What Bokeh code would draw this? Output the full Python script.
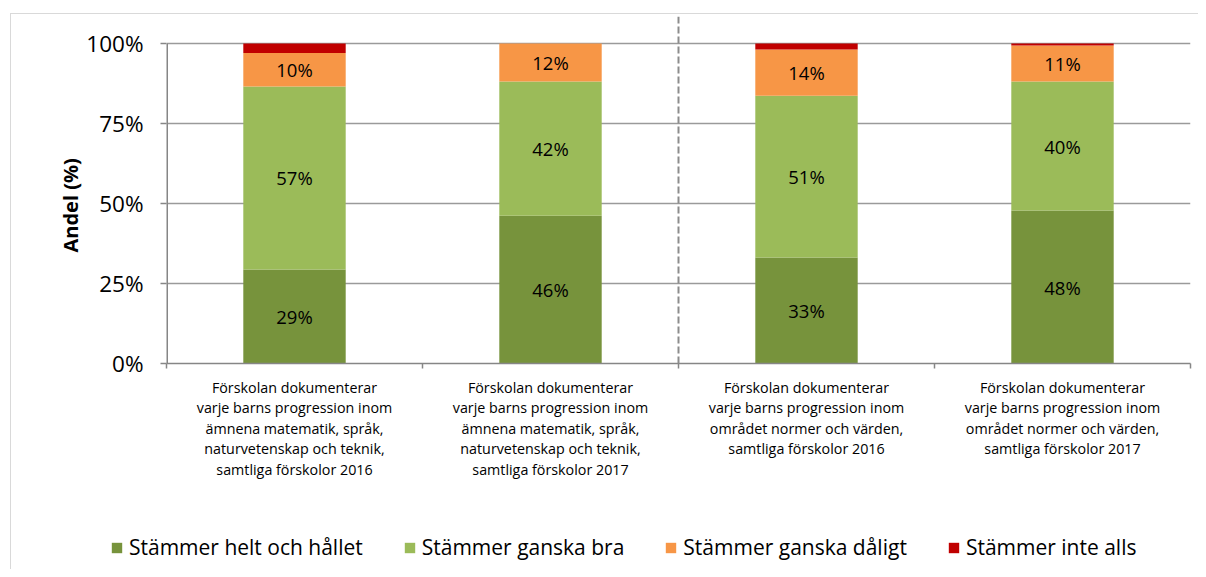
import numpy as np
from bokeh.plotting import figure
from bokeh.layouts import column
from bokeh.models import (ColumnDataSource, FixedTicker, PrintfTickFormatter, Range1d,
                          Span, Title)
from bokeh.core.properties import value
from bokeh.embed import file_html
from bokeh.resources import INLINE

# ---- data ----
categories = [
    "Förskolan dokumenterar\nvarje barns progression inom\nämnena matematik, språk,\nnaturvetenskap och teknik,\nsamtliga förskolor 2016",
    "Förskolan dokumenterar\nvarje barns progression inom\nämnena matematik, språk,\nnaturvetenskap och teknik,\nsamtliga förskolor 2017",
    "Förskolan dokumenterar\nvarje barns progression inom\nområdet normer och värden,\nsamtliga förskolor 2016",
    "Förskolan dokumenterar\nvarje barns progression inom\nområdet normer och värden,\nsamtliga förskolor 2017",
]
series_names = ["Stämmer helt och hållet", "Stämmer ganska bra", "Stämmer ganska dåligt", "Stämmer inte alls"]
helt = [29.4, 46.2, 33.1, 47.8]
bra = [57.2, 41.9, 50.6, 40.3]
daligt = [10.4, 11.9, 14.4, 11.3]
inte_alls = [3.0, 0.0, 1.9, 0.6]
y_ticks = [0, 25, 50, 75, 100]
colors = ["#77933C", "#9BBB59", "#F79646", "#C00000"]

FONT = "Open Sans"
xpos = [i + 0.5 for i in range(len(categories))]
YMAX = 108.44

src = ColumnDataSource(dict(x=xpos, s0=helt, s1=bra, s2=daligt, s3=inte_alls))

p = figure(width=1198, height=525, output_backend="svg", toolbar_location=None,
           x_range=Range1d(0, len(categories)), y_range=Range1d(0, YMAX),
           min_border_left=166, min_border_right=8, min_border_top=16, min_border_bottom=162)
p.outline_line_color = None
p.background_fill_color = "white"
p.border_fill_color = None

p.vbar_stack(["s0", "s1", "s2", "s3"], x="x", width=0.4, color=colors,
             source=src, line_color=None)

# value labels (first three series)
stack = np.array([helt, bra, daligt, inte_alls])
cum = np.cumsum(stack, axis=0)
lx, ly, lt = [], [], []
for s in range(3):
    for i in range(len(categories)):
        lx.append(xpos[i])
        ly.append(cum[s, i] - stack[s, i] / 2)
        lt.append(f"{int(round(stack[s, i]))}%")
p.text(x=lx, y=ly, text=lt, text_align="center", text_baseline="middle",
       text_font=value(FONT), text_font_size="18.5px", text_color="#000000")

# axes
p.xgrid.visible = False
p.yaxis.ticker = FixedTicker(ticks=y_ticks)
p.yaxis.formatter = PrintfTickFormatter(format="%d%%")
p.yaxis.axis_line_color = None
p.yaxis.major_tick_in = 0
p.yaxis.major_tick_out = 6
p.yaxis.major_tick_line_color = "#868686"
p.yaxis.major_tick_line_width = 1.5
p.yaxis.minor_tick_line_color = None
p.yaxis.major_label_standoff = 17
p.yaxis.major_label_text_font = FONT
p.yaxis.major_label_text_font_size = "22.5px"
p.yaxis.major_label_text_color = "#000000"
p.ygrid.grid_line_color = "#9a9a9a"
p.ygrid.grid_line_width = 1.5

p.segment(x0=[0], y0=[0], x1=[0], y1=[100], line_color="#868686", line_width=3)

p.xaxis.ticker = FixedTicker(ticks=xpos, minor_ticks=list(range(len(categories) + 1)))
p.xaxis.major_label_overrides = {x: c for x, c in zip(xpos, categories)}
p.xaxis.major_tick_line_color = None
p.xaxis.minor_tick_in = 0
p.xaxis.minor_tick_out = 5
p.xaxis.minor_tick_line_color = "#868686"
p.xaxis.minor_tick_line_width = 1.5
p.xaxis.axis_line_color = "#868686"
p.xaxis.axis_line_width = 1.5
p.xaxis.major_label_standoff = 8
p.xaxis.major_label_text_font = FONT
p.xaxis.major_label_text_font_size = "14.3px"
p.xaxis.major_label_text_line_height = 1.08
p.xaxis.major_label_text_color = "#000000"

# dashed separator
p.add_layout(Span(location=2, dimension="height", line_color="#8c8c8c",
                  line_width=2, line_dash="7 3"))

# y-axis title
p.add_layout(Title(text="Andel (%)", align="left", offset=111, text_font=FONT,
                   text_font_size="20px", text_font_style="bold", text_color="#000000",
                   standoff=0), "left")

# ---- legend figure ----
lf = figure(width=1198, height=44, output_backend="svg", toolbar_location=None,
            x_range=Range1d(0, 1), y_range=Range1d(0, 1),
            x_axis_location=None, y_axis_location=None,
            min_border_left=0, min_border_right=0, min_border_top=0, min_border_bottom=0)
for fig in (p, lf):
    try:
        fig.frame_align = False
    except Exception:
        pass
lf.outline_line_color = None
lf.background_fill_color = None
lf.border_fill_color = None
lf.grid.visible = False
for name, c in zip(series_names, colors):
    lf.vbar(x=[5], top=[5], width=0.1, color=c, line_color=None, legend_label=name)
leg = lf.legend[0]
leg.orientation = "horizontal"
leg.location = "left"
leg.margin = 110
leg.border_line_color = None
leg.background_fill_alpha = 0
leg.padding = 0
leg.spacing = 40
leg.glyph_width = 13
leg.glyph_height = 13
leg.label_standoff = 6
leg.label_text_font = FONT
leg.label_text_font_size = "21px"
leg.label_text_color = "#000000"
leg.label_height = 20

layout = column(p, lf, spacing=0)
layout.styles = {
    "background": ("linear-gradient(#d9d9d9, #d9d9d9) 10px 13px / 1px 100% no-repeat, "
                   "linear-gradient(#d9d9d9, #d9d9d9) 10px 13px / 100% 1px no-repeat, white"),
}

open("out.html", "w").write(file_html(layout, INLINE))
